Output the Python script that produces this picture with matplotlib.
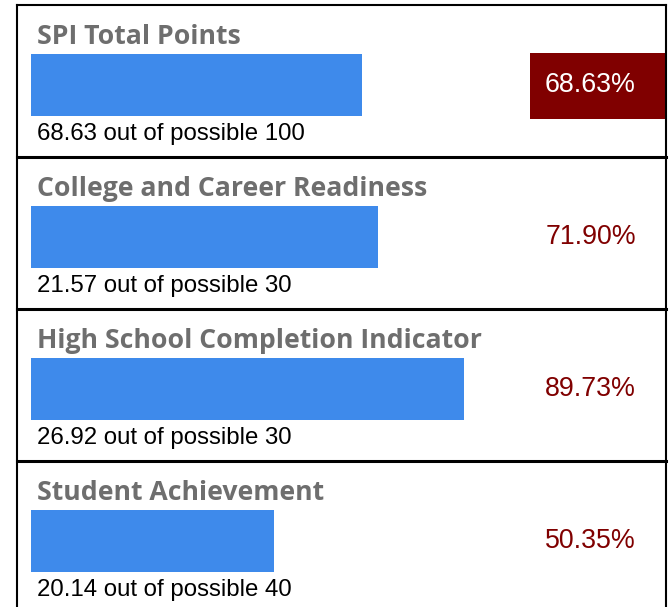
import matplotlib.pyplot as plt
import numpy as np

titles = ['SPI Total Points', 'College and Career Readiness',
          'High School Completion Indicator', 'Student Achievement']
points = [68.63, 21.57, 26.92, 20.14]
possible = [100, 30, 30, 40]

W, H = 669, 607
bar_color = '#3e8aeb'
title_color = '#6e6e6e'
red = '#800000'

fig = plt.figure(figsize=(W/100, H/100), dpi=100)
bg = fig.add_axes([0, 0, 1, 1])
bg.set_xlim(0, W)
bg.set_ylim(H, 0)
bg.axis('off')

panel_top = 5
panel_h = 152
left, right = 17, 666

# outer frame
bg.plot([left, left], [panel_top, H], color='black', lw=1.5)
bg.plot([right, right], [panel_top, H], color='black', lw=1.5)
bg.plot([left, right], [panel_top, panel_top], color='black', lw=1.5)

for i in range(len(titles)):
	top = panel_top + i*panel_h
	pct = points[i]/possible[i]*100
	if i > 0:
		bg.plot([left, right], [top, top], color='black', lw=2.2)
	# title
	bg.text(37, top+39, titles[i], fontsize=19.15, fontweight='bold',
		family='Open Sans', color=title_color, va='baseline', ha='left')
	# bar on its own 0..100 axes
	bar_top = top + 49
	bx = fig.add_axes([31/W, 1-(bar_top+62)/H, 483/W, 62/H])
	bx.barh(0.5, pct, height=1, color=bar_color)
	bx.set_xlim(0, 100)
	bx.set_ylim(0, 1)
	bx.axis('off')
	# subtitle
	bg.text(37, top+135, '%.2f out of possible %d' % (points[i], possible[i]),
		fontsize=17.3, family='Liberation Sans', color='black', va='baseline')
	# percentage
	lab = '%.2f%%' % pct
	cy = bar_top + 31
	if i == 0:
		bg.fill_between([530, right], bar_top-1, bar_top+65, color=red, lw=0)
		bg.text(636, cy, lab, fontsize=19.3, family='Liberation Sans',
			color='white', ha='right', va='center')
	else:
		bg.text(636, cy, lab, fontsize=19.3, family='Liberation Sans',
			color=red, ha='right', va='center')

plt.savefig('out.png', dpi=100)
